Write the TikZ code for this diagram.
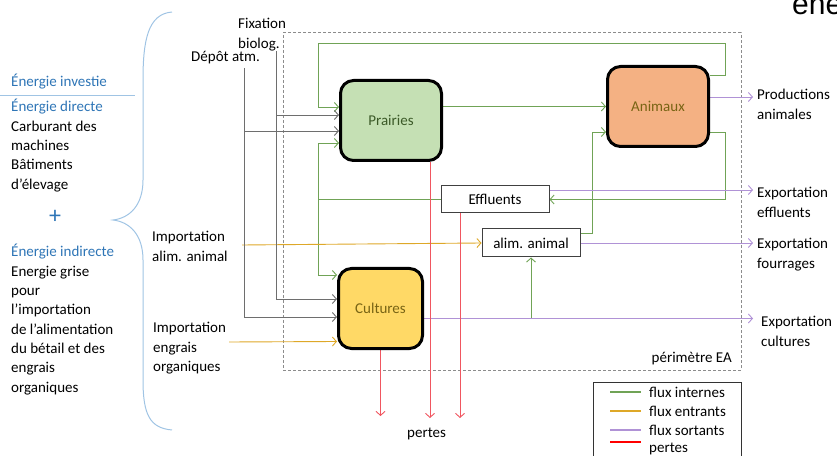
\documentclass[tikz,border=0pt]{standalone}
\usepackage{fontspec}
\setmainfont{Carlito}
\newfontfamily\titrefont{Liberation Sans}
\usetikzlibrary{arrows.meta,calc,positioning}
\pgfdeclarelayer{background}
\pgfsetlayers{background,main}
\definecolor{cInterne}{RGB}{112,163,86}
\definecolor{cEntrant}{RGB}{222,168,40}
\definecolor{cSortant}{RGB}{176,146,214}
\definecolor{cPerte}{RGB}{240,86,96}
\definecolor{cApport}{RGB}{110,110,110}
\definecolor{cBleu}{RGB}{46,117,182}
\definecolor{cAccolade}{RGB}{160,196,228}
\definecolor{cPrairie}{RGB}{197,224,180}
\definecolor{cAnimal}{RGB}{244,177,131}
\definecolor{cCulture}{RGB}{255,217,102}
\definecolor{cVertTxt}{RGB}{60,90,40}
\definecolor{cOliveTxt}{RGB}{120,100,20}
\tikzset{
  txt/.style={inner sep=0pt,align=left,font=\fontsize{15bp}{19.3bp}\selectfont},
  bloc/.style={rounded corners=13bp,draw=black,line width=3bp,minimum height=80bp,
    font=\fontsize{15bp}{18bp}\selectfont},
  cadre/.style={draw=black!75,line width=1bp,fill=white,inner sep=0pt,
    font=\fontsize{15bp}{18bp}\selectfont},
  flux/.style={line width=0.9bp,-{Straight Barb[length=4bp,width=9bp]}},
  interne/.style={flux,draw=cInterne},
  entrant/.style={flux,draw=cEntrant},
  sortant/.style={flux,draw=cSortant},
  perte/.style={flux,draw=cPerte},
  apport/.style={flux,draw=cApport}
}
\newcommand{\Bloc}[5]% pos, name, width, fill, text
{\node[bloc,minimum width=#3bp,fill=#4] (#2) at (#1) {#5};}
\newcommand{\Flux}[2]% style, path
{ \begin{pgfonlayer}{background}
    \draw[#1] #2;
  \end{pgfonlayer}}

\begin{document}
\begin{tikzpicture}[x=1bp,y=-1bp]
  \useasboundingbox (0,0) rectangle (837,456);
  \node[anchor=base west,inner sep=0pt,font=\titrefont\fontsize{30bp}{30bp}\selectfont] (titre) at (792,15) {ene};

  % colonne de gauche (base = derniere ligne)
  \node[txt,anchor=base west,text=cBleu] (investie) at (11,87) {Énergie investie};
  \draw[cAccolade,line width=1bp] (0,96) -- (135,96);
  \node[txt,anchor=base west] (directe) at (11,189.2)
    {\textcolor{cBleu}{Énergie directe}\\Carburant des\\machines\\Bâtiments\\d’élevage};
  \node[inner sep=0pt,text=cBleu,font=\fontsize{24bp}{24bp}\selectfont] (plus) at (55,217) {+};
  \node[txt,anchor=base west] (indirecte) at (11,392.1)
    {\textcolor{cBleu}{Énergie indirecte}\\Energie grise\\pour\\l’importation\\de l’alimentation\\du bétail et des\\engrais\\organiques};
  \draw[cAccolade,line width=1bp] (172,12) .. controls (148,14) and (143,40) .. (143,80)
    -- (143,180) .. controls (143,205) and (130,218) .. (113,220)
    .. controls (130,222) and (143,235) .. (143,260)
    -- (143,380) .. controls (143,415) and (150,428) .. (172,430);

  % perimetre
  \begin{pgfonlayer}{background}
    \node[draw=black!45,dash pattern=on 3bp off 2bp,line width=1bp,inner sep=0pt,
      minimum width=458bp,minimum height=337bp] (ea) at (512,201.5) {};
  \end{pgfonlayer}
  \node[txt,anchor=base east] (perim) at (732,363) {périmètre EA};

  % blocs
  \Bloc{391,120.5}{prairies}{101}{cPrairie}{\textcolor{cVertTxt}{Prairies}}
  \Bloc{658,106.5}{animaux}{101}{cAnimal}{\textcolor{cOliveTxt}{Animaux}}
  \Bloc{380.5,308.5}{cultures}{84}{cCulture}{\textcolor{cOliveTxt}{Cultures}}
  \node[cadre,minimum width=108bp,minimum height=27bp] (effluents) at (495,199.5) {Effluents};
  \node[cadre,minimum width=98bp,minimum height=28bp] (alim) at (531,243) {alim. animal};

  % etiquettes
  \node[txt,anchor=base west] (fixation) at (238,48.3) {Fixation\\biolog.};
  \node[txt,anchor=base west] (depot) at (191,62) {Dépôt atm.};
  \node[txt,anchor=base west] (impalim) at (152,261.3) {Importation\\alim. animal};
  \node[txt,anchor=base west] (impengrais) at (153,371.6) {Importation\\engrais\\organiques};
  \node[txt,anchor=base west] (prodanim) at (757,119.3) {Productions\\animales};
  \node[txt,anchor=base west] (expeff) at (757,217.3) {Exportation\\effluents};
  \node[txt,anchor=base west] (expfour) at (757,268.3) {Exportation\\fourrages};
  \node[txt,anchor=base west] (expcult) at (761,346.3) {Exportation\\cultures};
  \node[txt,anchor=base west] (pertes) at (407,437) {pertes};

  % flux internes
  \coordinate (coinhaut) at (318,43);
  \coordinate (jonc) at (318,199.5);
  \Flux{interne}{($(animaux.east)+(0,-31)$) -- ++(15,0) |- (coinhaut) |- ($(prairies.west)+(0,-13.5)$)}
  \Flux{interne}{(prairies.east |- animaux.west) -- (animaux.west)}
  \Flux{interne}{($(animaux.east)+(0,25.5)$) -- ++(15,0) |- (effluents.east)}
  \Flux{interne}{(effluents.west) -- (jonc) |- ($(prairies.west)+(0,22.5)$)}
  \Flux{interne}{(jonc) |- ($(cultures.west)+(0,-33.5)$)}
  \Flux{interne}{($(alim.east)+(0,-10)$) -- ++(12,0) |- ($(animaux.west)+(0,25.5)$)}
  \coordinate (cexp) at ($(cultures.east)+(0,10)$);
  \Flux{interne}{(alim.south |- cexp) -- (alim.south)}

  % flux entrants
  \coordinate (ia) at (242,245);
  \coordinate (ie) at (229,342);
  \Flux{entrant}{(ia) -- (alim.west)}
  \Flux{entrant}{(ie) -- ($(cultures.west)+(0,33)$)}

  % apports
  \coordinate (dep) at (244,68);
  \coordinate (fix) at (276,51);
  \coordinate (pdep) at ($(prairies.west)+(0,10.5)$);
  \coordinate (pfix) at ($(prairies.west)+(0,-5.5)$);
  \Flux{apport}{(dep) |- ($(cultures.west)+(0,8.5)$)}
  \Flux{apport}{(dep |- pdep) -- (pdep)}
  \Flux{apport}{(fix) |- ($(cultures.west)+(0,-9.5)$)}
  \Flux{apport}{(fix |- pfix) -- (pfix)}

  % flux sortants
  \coordinate (bord) at (753,0);
  \coordinate (s1) at ($(animaux.east)+(0,-9.5)$);
  \coordinate (s2) at ($(effluents.east)+(0,-9.5)$);
  \Flux{sortant}{(s1) -- (s1 -| bord)}
  \Flux{sortant}{(s2) -- (s2 -| bord)}
  \Flux{sortant}{(alim.east) -- (alim.east -| bord)}
  \Flux{sortant}{(cexp) -- (cexp -| bord)}

  % pertes
  \coordinate (r1) at ($(prairies.south)+(39,0)$);
  \coordinate (r2) at ($(effluents.south)+(-35,0)$);
  \Flux{perte}{(cultures.south) -- ++(0,66)}
  \Flux{perte}{(r1) -- ++(0,256)}
  \Flux{perte}{(r2) -- ++(0,204.5)}

  % legende
  \node[draw=black!80,line width=1bp,minimum width=148bp,minimum height=90bp,
    inner sep=0pt,anchor=north west] (legende) at (593,382) {};
  \draw[cInterne,line width=1.2bp] (610,392) -- (641,392);
  \draw[cEntrant,line width=1.2bp] (610,411) -- (641,411);
  \draw[cSortant,line width=1.2bp] (610,430) -- (641,430);
  \draw[red,line width=1.2bp] (610,442) -- (641,442);
  \node[txt,anchor=base west] (lint) at (649,397) {flux internes};
  \node[txt,anchor=base west] (lent) at (649,416) {flux entrants};
  \node[txt,anchor=base west] (lsor) at (649,435) {flux sortants};
  \node[txt,anchor=base west] (lper) at (649,452) {pertes};
\end{tikzpicture}
\end{document}
